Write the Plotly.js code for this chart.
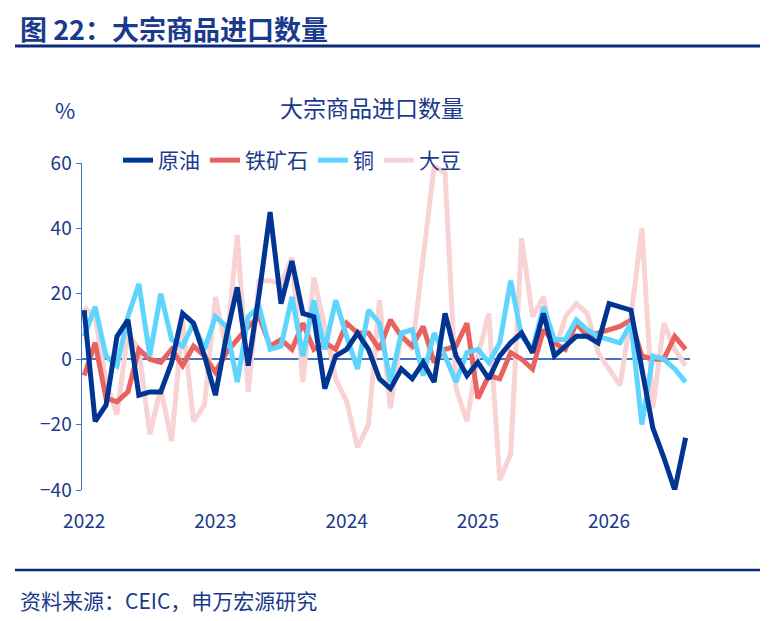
<!DOCTYPE html>
<html><head><meta charset="utf-8">
<script src="https://cdn.plot.ly/plotly-3.0.1.min.js"></script>
<style>html,body{margin:0;padding:0;background:#fff}#chart{width:774px;height:621px}</style>
</head><body><div id="chart"></div>
<script>
// Monthly series, Jan 2022 .. Aug 2026 (index = months since Jan 2022)
const yearTicks = [0, 12, 24, 36, 48];
const yearLabels = ['2022', '2023', '2024', '2025', '2026'];
const crude = [15,-19,-14,7,12,-11,-10,-10,-1,14,11,1, -11,7,22,-2,20,45, 17,30,14,13,-9,1,3,8,3,-6,-9,-3,-6,-1,-7,14,1,-5,-1,
  -6,1,5,8,2,14,1,4,7,7,5,17,16,15,-3,-21,-30,-40,-24];
const ironOre = [-5,5,-12,-13,-10,3,0,-1,3,-2,4,1,-4,2,6,10,13,4, 6,3,11,3,5,3,11,8,8,3,12,7,4,10,-1,3,4,11,
  -12,-5,-6,2,0,-3,9,5,3,11,7,8,9,10,12,1,0,0,7,3];
const copper = [7,16,1,-2,13,23,1,20,6,4,11,3,13,10,-7,13,16,3, 4,19,1,18,3,18,7,-3,15,11,-7,8,9,-5,8,1,-7,2,3,
  -1,5,24,7,3,16,6,6,12,9,7,6,5,11,-20,1,0,-3,-7];
const soybean = [16,13,-7,-17,8,3,-23,-9,-25,12,-19,-14,19,3,38,-10,24,24,23,
  31,-7,25,10,-6,-13,-27,-20,18,-15,8,3,30,59,57,-9,-19,1,14,
  -37,-29,37,13,19,2,13,17,14,2,-3,-8,13,40,-15,11,3,-2];
const names = ['原油', '铁矿石', '铜', '大豆'];
const colors = ['#003594', '#E8625F', '#5DD5FF', '#F9D3D3'];
const series = [crude, ironOre, copper, soybean];

const navy = '#1a3a8c';
const font = '"Noto Sans CJK SC", "Noto Sans", sans-serif';
const L = 82, R = 690, T = 163, B = 490;
const px = p => (p - L) / (R - L);
const py = p => (B - p) / (B - T);

const traces = series.map((s, i) => ({
  type: 'scatter', mode: 'lines', name: names[i], legendrank: i + 1,
  x: s.map((_, k) => k), y: s,
  line: { color: colors[i], width: 5 },
}));
// soybean drawn first so it sits behind the others
const data = [3, 1, 2, 0].map(i => traces[i]);

const layout = {
  width: 774, height: 621,
  margin: { l: L, r: 774 - R, t: T, b: 621 - B },
  paper_bgcolor: '#fff', plot_bgcolor: '#fff',
  font: { family: font, color: navy, size: 19 },
  showlegend: true,
  legend: { orientation: 'h', x: px(118), y: py(140), xanchor: 'left', yanchor: 'top',
            font: { size: 21, color: navy }, bgcolor: 'rgba(0,0,0,0)' },
  xaxis: { range: [-0.2, 55.4], tickvals: yearTicks, ticktext: yearLabels,
           showgrid: false, zeroline: false, showline: false,
           ticks: 'outside', ticklen: 14, tickcolor: 'rgba(0,0,0,0)',
           tickfont: { size: 19, color: navy } },
  yaxis: { range: [-40, 60], dtick: 20, showgrid: false, zeroline: true,
           zerolinecolor: '#4472c4', zerolinewidth: 1.5,
           showline: true, linecolor: '#4472c4', linewidth: 1.5,
           ticks: 'outside', ticklen: 5, tickcolor: '#4472c4',
           tickfont: { size: 19, color: navy } },
  shapes: [
    { type: 'line', xref: 'paper', yref: 'paper', x0: px(15), x1: px(760), y0: py(46), y1: py(46),
      line: { color: '#0b2a7a', width: 3 } },
    { type: 'line', xref: 'paper', yref: 'paper', x0: px(15), x1: px(760), y0: py(570), y1: py(570),
      line: { color: '#0b2a7a', width: 2.5 } },
  ],
  annotations: [
    { text: '<b>图 22：大宗商品进口数量</b>', xref: 'paper', yref: 'paper', x: px(18), y: py(29),
      xanchor: 'left', yanchor: 'middle', showarrow: false, font: { size: 27, color: navy } },
    { text: '大宗商品进口数量', xref: 'paper', yref: 'paper', x: px(372), y: py(107),
      xanchor: 'center', yanchor: 'middle', showarrow: false, font: { size: 23, color: navy } },
    { text: '%', xref: 'paper', yref: 'paper', x: px(65), y: py(109),
      xanchor: 'center', yanchor: 'middle', showarrow: false, font: { size: 22, color: navy } },
    { text: '资料来源：CEIC，申万宏源研究', xref: 'paper', yref: 'paper', x: px(18), y: py(600),
      xanchor: 'left', yanchor: 'middle', showarrow: false, font: { size: 21, color: navy } },
  ],
};

Plotly.newPlot('chart', data, layout, { displayModeBar: false, staticPlot: true });
</script>
</body></html>
